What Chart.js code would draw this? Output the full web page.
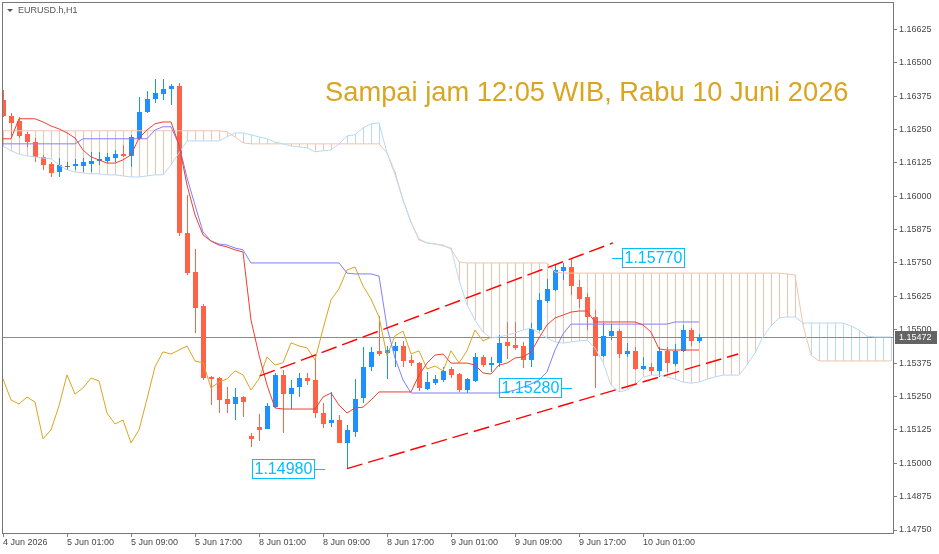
<!DOCTYPE html>
<html>
<head>
<meta charset="utf-8">
<title>EURUSD.h H1</title>
<script src="https://cdn.jsdelivr.net/npm/chart.js@4.4.1/dist/chart.umd.min.js"></script>
<style>
  html, body { margin: 0; padding: 0; background: #fff; }
  canvas { display: block; }
</style>
</head>
<body>
<canvas id="chart" width="939" height="554"></canvas>
<script>
// H1 bars, bar 0 = 4 Jun 17:00 (broker time)
const opens = [
  1.16361, 1.16301, 1.16282, 1.16233, 1.16203, 1.16148, 1.16121, 1.16091, 1.16113, 1.16113,
  1.16113, 1.16121, 1.16132, 1.16132, 1.16143, 1.16158, 1.16151, 1.16215, 1.16316, 1.16365,
  1.16383, 1.16402, 1.16413, 1.15862, 1.15716, 1.15589, 1.15323, 1.15319, 1.15241, 1.15222,
  1.15248, 1.15102, 1.15136, 1.15128, 1.15211, 1.15331, 1.15259, 1.15286, 1.15319, 1.15312,
  1.15188, 1.15151, 1.15162, 1.15076, 1.15117, 1.15244, 1.15361, 1.15421, 1.15413, 1.15421,
  1.15439, 1.15387, 1.15376, 1.15278, 1.15301, 1.15312, 1.15353, 1.15334, 1.15274, 1.15308,
  1.15398, 1.15368, 1.15376, 1.15454, 1.15443, 1.15439, 1.15387, 1.15499, 1.15608, 1.15649,
  1.15720, 1.15735, 1.15660, 1.15623, 1.15548, 1.15402, 1.15477, 1.15495, 1.15409, 1.15421,
  1.15353, 1.15361, 1.15346, 1.15421, 1.15372, 1.15421, 1.15499, 1.15458
];
const highs = [
  1.16398, 1.16312, 1.16297, 1.16241, 1.16218, 1.16155, 1.16128, 1.16143, 1.16128, 1.16140,
  1.16143, 1.16166, 1.16166, 1.16162, 1.16173, 1.16192, 1.16230, 1.16372, 1.16395, 1.16440,
  1.16440, 1.16421, 1.16424, 1.16005, 1.15803, 1.15597, 1.15327, 1.15323, 1.15286, 1.15281,
  1.15252, 1.15113, 1.15185, 1.15226, 1.15338, 1.15349, 1.15312, 1.15338, 1.15338, 1.15394,
  1.15226, 1.15267, 1.15181, 1.15143, 1.15316, 1.15436, 1.15436, 1.15552, 1.15439, 1.15454,
  1.15458, 1.15406, 1.15379, 1.15342, 1.15331, 1.15361, 1.15361, 1.15338, 1.15319, 1.15413,
  1.15406, 1.15398, 1.15481, 1.15529, 1.15529, 1.15454, 1.15525, 1.15638, 1.15690, 1.15743,
  1.15750, 1.15770, 1.15687, 1.15638, 1.15574, 1.15525, 1.15522, 1.15503, 1.15451, 1.15436,
  1.15398, 1.15376, 1.15436, 1.15436, 1.15447, 1.15518, 1.15507, 1.15484
];
const lows = [
  1.16297, 1.16222, 1.16218, 1.16185, 1.16128, 1.16098, 1.16072, 1.16072, 1.16098, 1.16098,
  1.16091, 1.16091, 1.16117, 1.16125, 1.16128, 1.16148, 1.16110, 1.16211, 1.16312, 1.16350,
  1.16361, 1.16342, 1.15851, 1.15705, 1.15488, 1.15312, 1.15218, 1.15188, 1.15188, 1.15162,
  1.15173, 1.15061, 1.15083, 1.15128, 1.15207, 1.15113, 1.15203, 1.15248, 1.15293, 1.15170,
  1.15132, 1.15136, 1.15076, 1.14980, 1.15098, 1.15226, 1.15346, 1.15402, 1.15316, 1.15361,
  1.15361, 1.15364, 1.15271, 1.15274, 1.15293, 1.15304, 1.15319, 1.15267, 1.15263, 1.15304,
  1.15361, 1.15342, 1.15361, 1.15391, 1.15424, 1.15357, 1.15361, 1.15495, 1.15600, 1.15645,
  1.15687, 1.15630, 1.15582, 1.15499, 1.15280, 1.15398, 1.15462, 1.15394, 1.15398, 1.15349,
  1.15349, 1.15331, 1.15323, 1.15342, 1.15364, 1.15417, 1.15439, 1.15451
];
const closes = [
  1.16301, 1.16275, 1.16226, 1.16203, 1.16148, 1.16117, 1.16087, 1.16117, 1.16113, 1.16121,
  1.16128, 1.16132, 1.16140, 1.16148, 1.16158, 1.16151, 1.16222, 1.16316, 1.16365, 1.16387,
  1.16402, 1.16413, 1.15862, 1.15713, 1.15582, 1.15319, 1.15316, 1.15237, 1.15222, 1.15248,
  1.15229, 1.15091, 1.15125, 1.15215, 1.15331, 1.15259, 1.15282, 1.15319, 1.15308, 1.15188,
  1.15147, 1.15162, 1.15076, 1.15125, 1.15241, 1.15361, 1.15417, 1.15409, 1.15424, 1.15439,
  1.15383, 1.15376, 1.15282, 1.15304, 1.15316, 1.15346, 1.15331, 1.15274, 1.15316, 1.15398,
  1.15368, 1.15376, 1.15451, 1.15439, 1.15432, 1.15387, 1.15503, 1.15612, 1.15653, 1.15724,
  1.15735, 1.15664, 1.15615, 1.15548, 1.15402, 1.15477, 1.15495, 1.15409, 1.15421, 1.15353,
  1.15364, 1.15346, 1.15421, 1.15376, 1.15421, 1.15499, 1.15458, 1.15472
];

// Ichimoku lines
const tenkan = [
  1.16215, 1.16215, 1.16290, 1.16290, 1.16290, 1.16278, 1.16263, 1.16252, 1.16237, 1.16218,
  1.16173, 1.16147, 1.16136, 1.16124, 1.16124, 1.16136, 1.16155, 1.16218, 1.16248, 1.16271,
  1.16278, 1.16278, 1.16192, 1.16042, 1.15930, 1.15855, 1.15832, 1.15817, 1.15810, 1.15799,
  1.15791, 1.15536, 1.15405, 1.15293, 1.15207, 1.15203, 1.15203, 1.15203, 1.15203, 1.15203,
  1.15248, 1.15263, 1.15218, 1.15188, 1.15207, 1.15210, 1.15237, 1.15267, 1.15267, 1.15267,
  1.15267, 1.15267, 1.15330, 1.15375, 1.15405, 1.15409, 1.15375, 1.15375, 1.15375, 1.15368,
  1.15338, 1.15334, 1.15368, 1.15375, 1.15394, 1.15398, 1.15416, 1.15469, 1.15518, 1.15544,
  1.15555, 1.15566, 1.15570, 1.15570, 1.15529, 1.15529, 1.15529, 1.15529, 1.15529, 1.15529,
  1.15518, 1.15491, 1.15428, 1.15424, 1.15424, 1.15424, 1.15424, 1.15424
];
const kijun = [
  1.16196, 1.16196, 1.16196, 1.16196, 1.16196, 1.16196, 1.16196, 1.16196, 1.16196, 1.16196,
  1.16215, 1.16215, 1.16215, 1.16215, 1.16215, 1.16215, 1.16215, 1.16215, 1.16215, 1.16248,
  1.16260, 1.16260, 1.16192, 1.16069, 1.15967, 1.15866, 1.15832, 1.15821, 1.15817, 1.15806,
  1.15799, 1.15750, 1.15750, 1.15750, 1.15750, 1.15750, 1.15750, 1.15750, 1.15750, 1.15750,
  1.15750, 1.15750, 1.15750, 1.15712, 1.15709, 1.15709, 1.15709, 1.15701, 1.15510, 1.15394,
  1.15312, 1.15263, 1.15263, 1.15263, 1.15263, 1.15263, 1.15263, 1.15263, 1.15263, 1.15263,
  1.15263, 1.15263, 1.15263, 1.15267, 1.15274, 1.15285, 1.15297, 1.15312, 1.15342, 1.15424,
  1.15484, 1.15521, 1.15521, 1.15521, 1.15521, 1.15521, 1.15521, 1.15521, 1.15521, 1.15521,
  1.15521, 1.15521, 1.15521, 1.15521, 1.15529, 1.15529, 1.15529, 1.15529
];
// cloud, 26 bars ahead of price -> bars 0..111
const spanA = [
  1.16188, 1.16170, 1.16158, 1.16151, 1.16147, 1.16143, 1.16140, 1.16117, 1.16099, 1.16091,
  1.16087, 1.16084, 1.16084, 1.16080, 1.16080, 1.16076, 1.16072, 1.16072, 1.16076, 1.16080,
  1.16080, 1.16117, 1.16162, 1.16207, 1.16207, 1.16207, 1.16207, 1.16207, 1.16222, 1.16237,
  1.16237, 1.16230, 1.16222, 1.16215, 1.16203, 1.16196, 1.16188, 1.16185, 1.16181, 1.16166,
  1.16170, 1.16173, 1.16196, 1.16226, 1.16230, 1.16256, 1.16271, 1.16275, 1.16162, 1.16080,
  1.15986, 1.15903, 1.15840, 1.15825, 1.15821, 1.15814, 1.15806, 1.15686, 1.15593, 1.15536,
  1.15491, 1.15469, 1.15473, 1.15480, 1.15488, 1.15499, 1.15506, 1.15488, 1.15469, 1.15454,
  1.15450, 1.15454, 1.15458, 1.15461, 1.15431, 1.15379, 1.15293, 1.15267, 1.15274, 1.15293,
  1.15323, 1.15330, 1.15330, 1.15323, 1.15315, 1.15304, 1.15300, 1.15304, 1.15315, 1.15323,
  1.15330, 1.15330, 1.15330, 1.15368, 1.15413, 1.15473, 1.15514, 1.15544, 1.15548, 1.15548,
  1.15525, 1.15525, 1.15525, 1.15525, 1.15525, 1.15525, 1.15514, 1.15499, 1.15476, 1.15473,
  1.15473, 1.15473
];
const spanB = [
  1.16245, 1.16245, 1.16245, 1.16245, 1.16245, 1.16245, 1.16245, 1.16245, 1.16245, 1.16245,
  1.16245, 1.16245, 1.16245, 1.16245, 1.16245, 1.16245, 1.16245, 1.16245, 1.16245, 1.16245,
  1.16245, 1.16245, 1.16245, 1.16245, 1.16245, 1.16245, 1.16245, 1.16245, 1.16241, 1.16222,
  1.16200, 1.16196, 1.16196, 1.16196, 1.16196, 1.16196, 1.16196, 1.16196, 1.16196, 1.16196,
  1.16196, 1.16196, 1.16196, 1.16196, 1.16196, 1.16196, 1.16196, 1.16196, 1.16162, 1.16091,
  1.15986, 1.15903, 1.15836, 1.15825, 1.15821, 1.15817, 1.15802, 1.15754, 1.15750, 1.15750,
  1.15750, 1.15750, 1.15750, 1.15750, 1.15750, 1.15750, 1.15750, 1.15750, 1.15750, 1.15716,
  1.15712, 1.15712, 1.15712, 1.15712, 1.15712, 1.15712, 1.15712, 1.15712, 1.15712, 1.15712,
  1.15712, 1.15712, 1.15712, 1.15712, 1.15712, 1.15712, 1.15712, 1.15712, 1.15712, 1.15712,
  1.15712, 1.15712, 1.15712, 1.15712, 1.15712, 1.15712, 1.15712, 1.15712, 1.15709, 1.15705,
  1.15518, 1.15405, 1.15383, 1.15383, 1.15383, 1.15383, 1.15383, 1.15383, 1.15383, 1.15383,
  1.15383, 1.15383
];

const xTickBars = [0, 8, 16, 24, 32, 40, 48, 56, 64, 72, 80];
const xTickLabels = ['4 Jun 2026', '5 Jun 01:00', '5 Jun 09:00', '5 Jun 17:00', '8 Jun 01:00',
  '8 Jun 09:00', '8 Jun 17:00', '9 Jun 01:00', '9 Jun 09:00', '9 Jun 17:00', '10 Jun 01:00'];
const yTickLabels = ['1.14750', '1.14875', '1.15000', '1.15125', '1.15250', '1.15375', '1.15500',
  '1.15625', '1.15750', '1.15875', '1.16000', '1.16125', '1.16250', '1.16375', '1.16500', '1.16625'];

const lastPrice = 1.15472;
const channelUpper = [[32.1, 1.15327], [76.25, 1.15825]];
const channelLower = [[43, 1.14980], [91.9, 1.15409]];
const noteValues = [1.14980, 1.15280, 1.15770];
const noteBars = [40.25, 71.1, 76.1];
const noteSides = ['left', 'left', 'right'];

const FONT = "'Liberation Sans', Arial, sans-serif";
const BULL = '#1E90FF';
const BEAR = '#FF6347';
const SALMON = '#F3C3AD';
const LIGHTBLUE = '#B7D9F5';
const AXIS_TEXT = '#474747';

const pts = arr => arr.map((v, i) => ({x: i, y: v}));
const chikou = closes.slice(26).map((v, i) => ({x: i, y: v}));

const ichimokuPlugin = {
    id: 'ichimoku',
    beforeDatasetsDraw(chart) {
        const {ctx, chartArea: a, scales: {x, y}} = chart;
        ctx.save();
        ctx.beginPath();
        ctx.rect(a.left, a.top, a.width, a.height);
        ctx.clip();

        // cloud hatch, coloured like the upper edge
        for (let i = 0; i < spanA.length; i++) {
            const px = Math.round(x.getPixelForValue(i));
            const ya = y.getPixelForValue(spanA[i]);
            const yb = y.getPixelForValue(spanB[i]);
            const top = Math.round(Math.min(ya, yb));
            const h = Math.round(Math.abs(ya - yb));
            if (h < 1) continue;
            ctx.fillStyle = spanA[i] > spanB[i] ? LIGHTBLUE : SALMON;
            ctx.fillRect(px, top, 1, h);
        }

        // last price line
        ctx.fillStyle = '#8a8a8a';
        ctx.fillRect(a.left, Math.round(y.getPixelForValue(lastPrice)), a.width, 1);

        // candles
        for (let i = 0; i < opens.length; i++) {
            const px = Math.round(x.getPixelForValue(i));
            const yo = y.getPixelForValue(opens[i]);
            const yc = y.getPixelForValue(closes[i]);
            const yh = Math.round(y.getPixelForValue(highs[i]));
            const yl = Math.round(y.getPixelForValue(lows[i]));
            let col = closes[i] > opens[i] ? BULL : BEAR;
            if (closes[i] === opens[i]) col = '#6e6e6e';
            ctx.fillStyle = col;
            ctx.fillRect(px, yh, 1, Math.max(1, yl - yh));
            const top = Math.round(Math.min(yo, yc));
            const bh = Math.max(1, Math.round(Math.abs(yo - yc)));
            ctx.fillRect(px - 2, top, 5, bh);
        }
        ctx.restore();
    },
    afterDatasetsDraw(chart) {
        const {ctx, scales: {x, y}} = chart;
        ctx.save();
        ctx.font = '16px ' + FONT;
        ctx.textBaseline = 'middle';
        for (let i = 0; i < noteValues.length; i++) {
            const px = Math.round(x.getPixelForValue(noteBars[i]));
            const py = Math.round(y.getPixelForValue(noteValues[i]));
            const txt = noteValues[i].toFixed(5);
            const w = Math.round(ctx.measureText(txt).width) + 4;
            ctx.strokeStyle = '#00BFFF';
            ctx.fillStyle = '#00BFFF';
            ctx.lineWidth = 1;
            let bx;
            if (noteSides[i] === 'left') {
                ctx.fillRect(px - 11, py, 11, 1);
                bx = px - 11 - w;
            } else {
                ctx.fillRect(px, py, 10, 1);
                bx = px + 10;
            }
            ctx.strokeRect(bx + 0.5, py - 9.5, w, 19);
            ctx.fillText(txt, bx + 2.5, py + 1);
        }
        ctx.restore();
    },
    afterDraw(chart) {
        const {ctx, chartArea: a, scales: {y}} = chart;
        ctx.save();
        // frame
        ctx.strokeStyle = '#777777';
        ctx.lineWidth = 1;
        ctx.strokeRect(a.left + 0.5, a.top + 0.5, a.width, a.height);

        // last price tag on the axis
        const py = Math.round(y.getPixelForValue(lastPrice));
        ctx.fillStyle = '#646464';
        ctx.fillRect(a.right + 2, py - 6, 42, 13);
        ctx.fillStyle = '#ffffff';
        ctx.font = '9px ' + FONT;
        ctx.textBaseline = 'middle';
        ctx.fillText(lastPrice.toFixed(5), a.right + 6, py + 1);

        // symbol header
        ctx.fillStyle = '#555555';
        ctx.beginPath();
        ctx.moveTo(a.left + 5, a.top + 7);
        ctx.lineTo(a.left + 11, a.top + 7);
        ctx.lineTo(a.left + 8, a.top + 10);
        ctx.closePath();
        ctx.fill();
        ctx.fillText('EURUSD.h,H1', a.left + 16, a.top + 9);

        // title
        ctx.fillStyle = '#DAA520';
        ctx.font = '27.3px ' + FONT;
        ctx.textBaseline = 'alphabetic';
        ctx.fillText('Sampai jam 12:05 WIB, Rabu 10 Juni 2026', 325, 101);
        ctx.restore();
    }
};

const line = (label, data, color, order, extra) => Object.assign({
    label, data, borderColor: color, borderWidth: 1, pointRadius: 0,
    fill: false, tension: 0, order
}, extra || {});

new Chart(document.getElementById('chart'), {
    type: 'line',
    data: {
        datasets: [
            line('Channel upper', channelUpper.map(p => ({x: p[0], y: p[1]})), '#FF0000', 0, {borderDash: [16, 6], borderWidth: 1.4}),
            line('Channel lower', channelLower.map(p => ({x: p[0], y: p[1]})), '#FF0000', 0, {borderDash: [16, 6], borderWidth: 1.4}),
            line('Tenkan-sen', pts(tenkan), '#EE3F2F', 1),
            line('Kijun-sen', pts(kijun), '#7F7FFF', 2),
            line('Chikou Span', chikou, '#DAA520', 3),
            line('Senkou Span A', pts(spanA), LIGHTBLUE, 4),
            line('Senkou Span B', pts(spanB), SALMON, 5)
        ]
    },
    options: {
        responsive: false,
        devicePixelRatio: 1,
        animation: false,
        events: [],
        layout: {padding: {left: 2, top: 2, right: 0, bottom: 0}},
        plugins: {legend: {display: false}, tooltip: {enabled: false}},
        scales: {
            x: {
                type: 'linear',
                min: -0.125,
                max: 111.25,
                afterBuildTicks: s => { s.ticks = xTickBars.map(v => ({value: v})); },
                afterFit: s => { s.height = 21; s.paddingLeft = 0; s.paddingRight = 0; },
                ticks: {
                    autoSkip: false, maxRotation: 0, minRotation: 0, align: 'start', padding: 0,
                    color: AXIS_TEXT, font: {family: FONT, size: 9},
                    callback: (v, i) => xTickLabels[i]
                },
                grid: {drawOnChartArea: false, drawTicks: true, tickLength: 4, color: '#808080'},
                border: {display: false}
            },
            y: {
                position: 'right',
                min: 1.147388,
                max: 1.167272,
                afterBuildTicks: s => { s.ticks = yTickLabels.map(v => ({value: Number(v)})); },
                afterFit: s => { s.width = 46; s.paddingTop = 0; s.paddingBottom = 0; },
                ticks: {
                    autoSkip: false, padding: 2,
                    color: AXIS_TEXT, font: {family: FONT, size: 9},
                    callback: (v, i) => yTickLabels[i]
                },
                grid: {drawOnChartArea: false, drawTicks: true, tickLength: 4, color: '#808080'},
                border: {display: false}
            }
        }
    },
    plugins: [ichimokuPlugin]
});
</script>
</body>
</html>
